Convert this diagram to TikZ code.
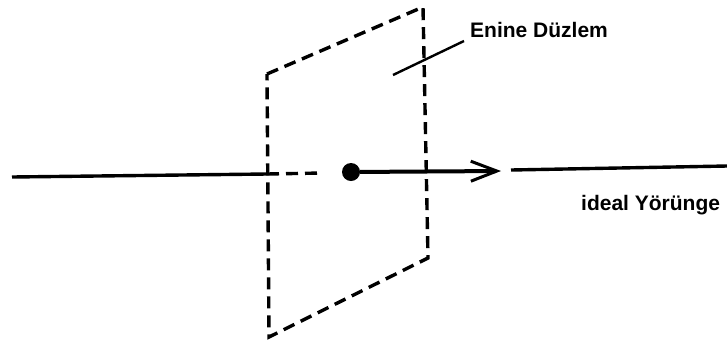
\documentclass[tikz,border=0pt]{standalone}
\usepackage{fontspec}
\setmainfont{Liberation Sans}
\usetikzlibrary{arrows.meta,positioning}
\tikzset{
  planeedge/.style={line width=3.4pt,dash pattern=on 12pt off 7pt,line cap=butt},
  trackline/.style={line width=3.4pt},
  lbl/.style={font=\fontsize{21}{23}\selectfont\bfseries,inner sep=0pt}
}

\begin{document}
\begin{tikzpicture}[x=1pt,y=-1pt]
  \useasboundingbox[fill=white] (0,0) rectangle (727,349);
  % Plane corners
  \coordinate (tl) at (267,74);
  \coordinate (tr) at (423,7);
  \coordinate (br) at (428,258);
  \coordinate (bl) at (269,337);
  \draw[planeedge] (tl) -- (tr) -- (br) -- (bl) -- cycle;
  %
  % Ideal track
  \coordinate (start) at (12,177);
  \coordinate (enter) at (267,174);
  \coordinate (hidden) at (322,173);
  \node[circle,fill=black,minimum size=18pt,inner sep=0pt] (pt) at (351,172) {};
  \coordinate (tip) at (501,171);
  \coordinate (resume) at (511,170);
  \coordinate (end) at (727,166);
  \draw[trackline] (start) -- (enter);
  \draw[planeedge] (enter) -- (hidden);
  \draw[trackline,line width=4pt,-{Straight Barb[length=26pt,width=20pt,line width=3pt]}] (pt) -- (tip);
  \draw[trackline] (resume) -- (end);
  %
  % Labels
  \node[lbl,anchor=west] (plane) at (470,30) {Enine Düzlem};
  \coordinate (lead) at (393,75);
  \draw[line width=2.4pt] (lead) -- (464,41);
  \node[lbl,anchor=west] (track) at (581,205) {ideal Yörünge};
\end{tikzpicture}
\end{document}
